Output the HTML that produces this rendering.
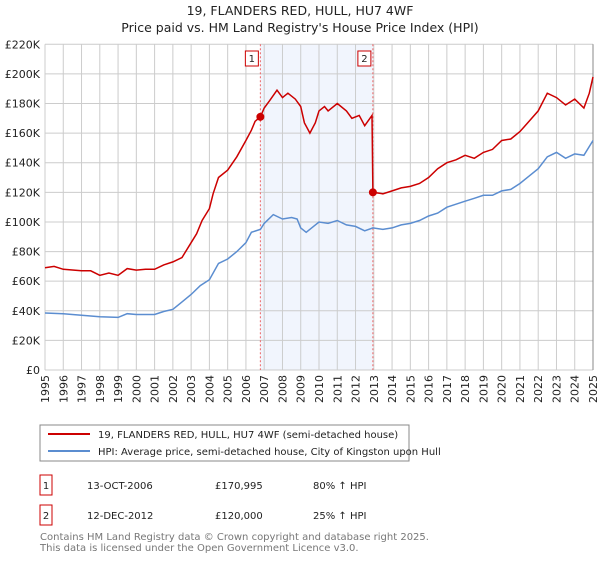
<!DOCTYPE html>
<html><head><meta charset="utf-8"><style>
body{margin:0;background:#fff;font-family:"DejaVu Sans","Liberation Sans",sans-serif;}
svg text{font-family:"DejaVu Sans","Liberation Sans",sans-serif;}
</style></head><body>
<svg id="c" width="600" height="560" xmlns="http://www.w3.org/2000/svg">
<text x="300" y="15" text-anchor="middle" font-size="12.5" fill="#222">19, FLANDERS RED, HULL, HU7 4WF</text>
<text x="300" y="32" text-anchor="middle" font-size="12.5" fill="#222">Price paid vs. HM Land Registry's House Price Index (HPI)</text>
<g id="plot"></g>
<rect x="40" y="425" width="369" height="36" fill="#fff" stroke="#888"/>
<line x1="48" y1="434" x2="90" y2="434" stroke="#cc0000" stroke-width="2"/>
<text x="98" y="438" font-size="10" fill="#222">19, FLANDERS RED, HULL, HU7 4WF (semi-detached house)</text>
<line x1="48" y1="451" x2="90" y2="451" stroke="#5b8dd0" stroke-width="2"/>
<text x="98" y="455" font-size="10" fill="#222">HPI: Average price, semi-detached house, City of Kingston upon Hull</text>
<g font-size="10" fill="#222">
<rect x="40" y="475" width="12" height="20" fill="none" stroke="#cc0000"/>
<text x="46" y="489" text-anchor="middle">1</text>
<text x="87" y="489">13-OCT-2006</text>
<text x="215" y="489">£170,995</text>
<text x="313" y="489">80% ↑ HPI</text>
<rect x="40" y="505" width="12" height="20" fill="none" stroke="#cc0000"/>
<text x="46" y="519" text-anchor="middle">2</text>
<text x="87" y="519">12-DEC-2012</text>
<text x="215" y="519">£120,000</text>
<text x="313" y="519">25% ↑ HPI</text>
</g>
<text x="40" y="540" font-size="10" fill="#777">Contains HM Land Registry data © Crown copyright and database right 2025.</text>
<text x="40" y="551" font-size="10" fill="#777">This data is licensed under the Open Government Licence v3.0.</text>
</svg>
<script>
const yTicks=[0,20,40,60,80,100,120,140,160,180,200,220];
const yTickLabels=["£0","£20K","£40K","£60K","£80K","£100K","£120K","£140K","£160K","£180K","£200K","£220K"];
const xYears=[1995,1996,1997,1998,1999,2000,2001,2002,2003,2004,2005,2006,2007,2008,2009,2010,2011,2012,2013,2014,2015,2016,2017,2018,2019,2020,2021,2022,2023,2024,2025];
const propT=[1995,1995.5,1996,1997,1997.5,1998,1998.5,1999,1999.5,2000,2000.5,2001,2001.5,2002,2002.5,2003,2003.3,2003.6,2004,2004.2,2004.5,2005,2005.5,2006,2006.3,2006.5,2006.79,2007,2007.3,2007.7,2008,2008.3,2008.7,2009,2009.2,2009.5,2009.8,2010,2010.3,2010.5,2011,2011.5,2011.8,2012.2,2012.5,2012.9,2012.95,2013.5,2014,2014.5,2015,2015.5,2016,2016.5,2017,2017.5,2018,2018.5,2019,2019.5,2020,2020.5,2021,2021.5,2022,2022.5,2023,2023.5,2024,2024.5,2024.8,2025];
const propV=[69,70,68,67,67,64,65.5,64,68.5,67.5,68,68,71,73,76,86,92,101,109,119,130,135,144,155,162,168,171,177,182,189,184,187,183,178,167,160,167,175,178,175,180,175,170,172,165,172,120,119,121,123,124,126,130,136,140,142,145,143,147,149,155,156,161,168,175,187,184,179,183,177,187,198];
const hpiT=[1995,1996,1997,1998,1999,1999.5,2000,2001,2001.5,2002,2002.5,2003,2003.5,2004,2004.5,2005,2005.5,2006,2006.3,2006.79,2007,2007.5,2008,2008.5,2008.8,2009,2009.3,2009.7,2010,2010.5,2011,2011.5,2012,2012.5,2012.95,2013.5,2014,2014.5,2015,2015.5,2016,2016.5,2017,2017.5,2018,2018.5,2019,2019.5,2020,2020.5,2021,2021.5,2022,2022.5,2023,2023.5,2024,2024.5,2025];
const hpiV=[38.5,38,37,36,35.5,38,37.5,37.5,39.5,41,46,51,57,61,72,75,80,86,93,95,99,105,102,103,102,96,93,97,100,99,101,98,97,94,96,95,96,98,99,101,104,106,110,112,114,116,118,118,121,122,126,131,136,144,147,143,146,145,155];
const sales=[{t:2006.79,v:170.995,label:"1"},{t:2012.95,v:120,label:"2"}];

const X0=45,X1=593,Y0=370,Y1=44.3;
const x=t=>X0+(t-1995)/(2025-1995)*(X1-X0);
const y=v=>Y0-v/220*(Y0-Y1);
const NS="http://www.w3.org/2000/svg";
const g=document.getElementById('plot');
function mk(tag,attrs){const e=document.createElementNS(NS,tag);for(const k in attrs)e.setAttribute(k,attrs[k]);g.appendChild(e);return e;}
let e;
e=mk('rect',{x:x(sales[0].t),y:Y1,width:x(sales[1].t)-x(sales[0].t),height:Y0-Y1,fill:'#eef2fc',opacity:0.8});


yTicks.forEach((v,i)=>{
 e=mk('line',{x1:X0,x2:X1,y1:y(v),y2:y(v),stroke:'#ccc','stroke-width':1});
 
 
 e=mk('text',{x:X0-5,y:y(v)+4,'text-anchor':'end','font-size':11,fill:'#222'});
 e.textContent=yTickLabels[i];
 
 
});
xYears.forEach(yr=>{
 e=mk('line',{x1:x(yr),x2:x(yr),y1:Y1,y2:Y0,stroke:'#ccc','stroke-width':1});
 
 
 e=mk('text',{x:0,y:0,'text-anchor':'end','font-size':11,fill:'#222',transform:`translate(${x(yr)+4},${Y0+5}) rotate(-90)`});
 e.textContent=yr;
 
 
});
e=mk('line',{x1:X1,x2:X1,y1:Y1,y2:Y0,stroke:'#888','stroke-width':1});


sales.forEach(s=>{
 e=mk('line',{x1:x(s.t),x2:x(s.t),y1:Y1,y2:Y0,stroke:'#e66','stroke-width':1,'stroke-dasharray':'2,2'});
 
 
 e=mk('rect',{x:x(s.t)-15,y:51,width:13,height:15,fill:'#fff',stroke:'#cc0000'});
 
 
 e=mk('text',{x:x(s.t)-8.5,y:62,'text-anchor':'middle','font-size':10,fill:'#222'});
 e.textContent=s.label;
 
 
});
function path(T,V){return T.map((t,i)=>(i?'L':'M')+x(t).toFixed(1)+','+y(V[i]).toFixed(1)).join('');}
e=mk('path',{d:path(hpiT,hpiV),fill:'none',stroke:'#5b8dd0','stroke-width':1.5});


e=mk('path',{d:path(propT,propV),fill:'none',stroke:'#cc0000','stroke-width':1.5});


sales.forEach(s=>{
 e=mk('circle',{cx:x(s.t),cy:y(s.v),r:4,fill:'#cc0000'});
 
 
});
</script>
</body></html>
